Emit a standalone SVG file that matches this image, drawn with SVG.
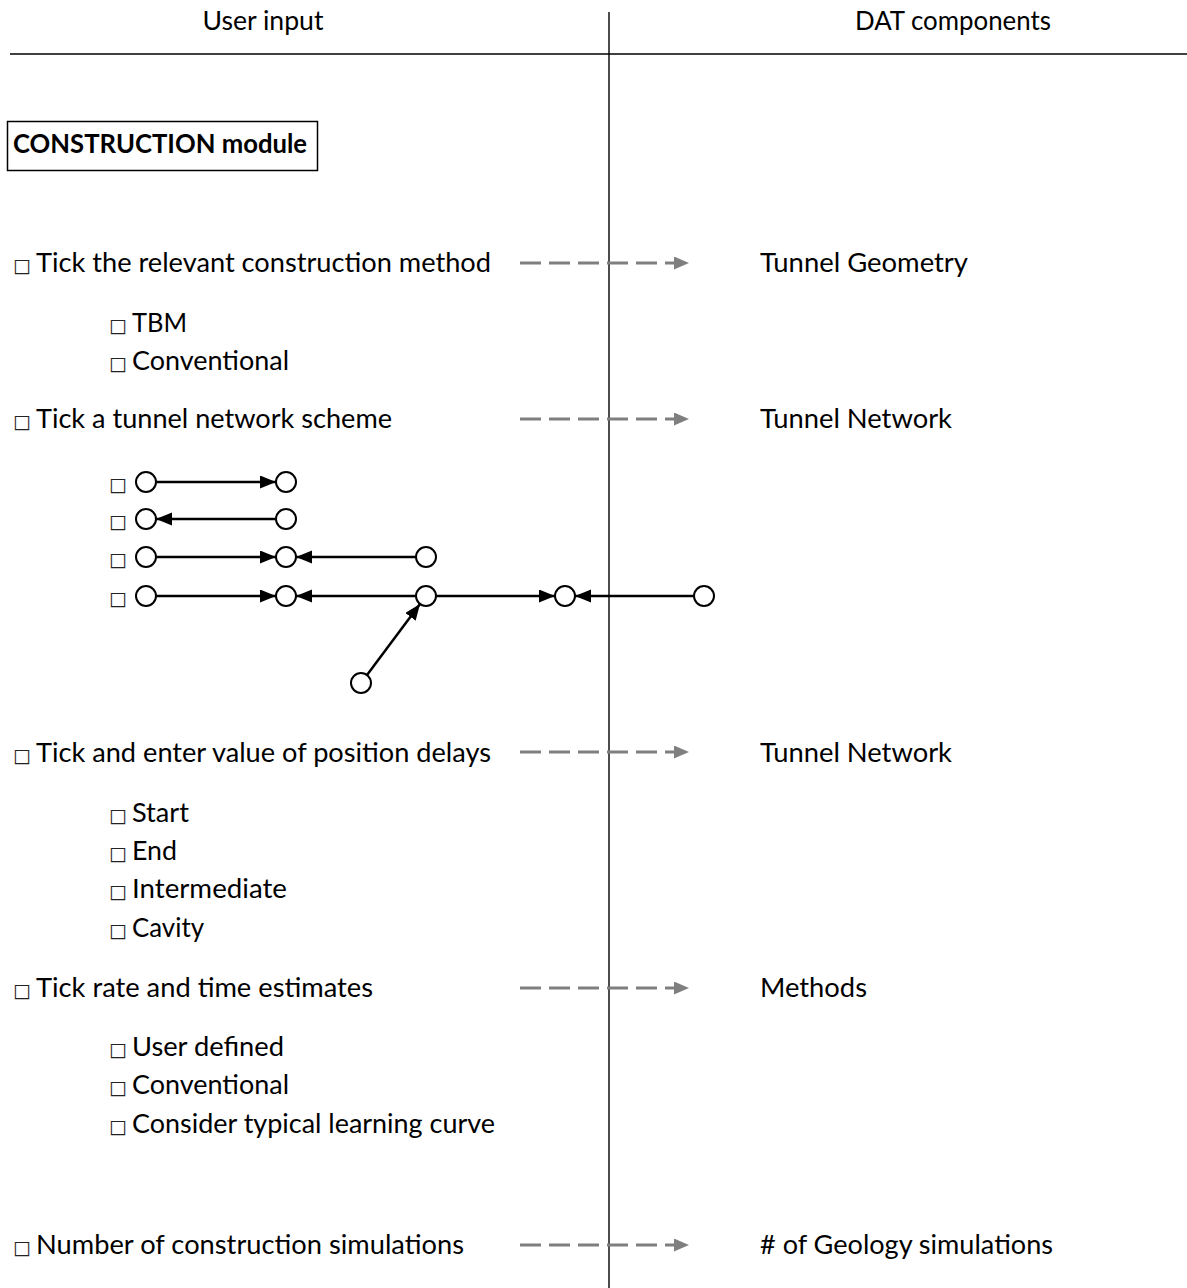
<svg xmlns="http://www.w3.org/2000/svg" width="1187" height="1288" viewBox="0 0 1187 1288">
  <style>
    text { font-family: Lato, "Open Sans", "Liberation Sans", sans-serif; font-size: 26.5px; fill: #000; }
    .bold { font-weight: bold; }
    .bx { font-family: "DejaVu Sans", sans-serif; font-size: 19px; fill: #222; }
    .rule { stroke: #000; stroke-width: 1.4; fill: none; }
    .flow { stroke: #7f7f7f; stroke-width: 3; stroke-dasharray: 21 8; fill: none; marker-end: url(#grayHead); }
    .edge { stroke: #000; stroke-width: 2.5; fill: none; marker-end: url(#blackHead); }
    .site { fill: #fff; stroke: #000; stroke-width: 2; }
  </style>
  <defs>
    <marker id="grayHead" markerUnits="userSpaceOnUse" markerWidth="16" markerHeight="14" refX="0" refY="6.5" orient="auto">
      <path d="M0,0 L15,6.5 L0,13 z" fill="#7f7f7f"/>
    </marker>
    <marker id="blackHead" markerUnits="userSpaceOnUse" markerWidth="17" markerHeight="14" refX="16" refY="6.5" orient="auto">
      <path d="M0,0 L16,6.5 L0,13 z" fill="#000"/>
    </marker>
  </defs>

  <rect width="1187" height="1288" fill="#fff"/>

  <!-- column headers and dividers -->
  <g id="headers">
    <text x="263" y="30" text-anchor="middle" textLength="121" lengthAdjust="spacingAndGlyphs">User input</text>
    <text x="953" y="30" text-anchor="middle" textLength="196" lengthAdjust="spacingAndGlyphs">DAT components</text>
    <line class="rule" x1="10" y1="54" x2="1187" y2="54"/>
    <line class="rule" x1="609" y1="12" x2="609" y2="1288"/>
  </g>

  <g id="module-title">
    <rect x="7.5" y="121.5" width="310" height="49" fill="none" stroke="#000" stroke-width="1.5"/>
    <text class="bold" x="13" y="153" textLength="294" lengthAdjust="spacingAndGlyphs">CONSTRUCTION module</text>
  </g>

  <!-- user input items (left column) -->
  <g id="input-method">
    <text y="272"><tspan class="bx" x="13">□</tspan><tspan x="36" textLength="455" lengthAdjust="spacingAndGlyphs">Tick the relevant construction method</tspan></text>
    <text y="332"><tspan class="bx" x="109">□</tspan><tspan x="132" textLength="55" lengthAdjust="spacingAndGlyphs">TBM</tspan></text>
    <text y="370"><tspan class="bx" x="109">□</tspan><tspan x="132" textLength="157" lengthAdjust="spacingAndGlyphs">Conventional</tspan></text>
  </g>

  <g id="input-network">
    <text y="428"><tspan class="bx" x="13">□</tspan><tspan x="36" textLength="356" lengthAdjust="spacingAndGlyphs">Tick a tunnel network scheme</tspan></text>
    <text class="bx" x="109" y="491">□</text>
    <text class="bx" x="109" y="528">□</text>
    <text class="bx" x="109" y="566">□</text>
    <text class="bx" x="109" y="605">□</text>
  </g>

  <g id="input-delays">
    <text y="762"><tspan class="bx" x="13">□</tspan><tspan x="36" textLength="455" lengthAdjust="spacingAndGlyphs">Tick and enter value of position delays</tspan></text>
    <text y="822"><tspan class="bx" x="109">□</tspan><tspan x="132" textLength="57" lengthAdjust="spacingAndGlyphs">Start</tspan></text>
    <text y="860"><tspan class="bx" x="109">□</tspan><tspan x="132" textLength="45" lengthAdjust="spacingAndGlyphs">End</tspan></text>
    <text y="898"><tspan class="bx" x="109">□</tspan><tspan x="132" textLength="155" lengthAdjust="spacingAndGlyphs">Intermediate</tspan></text>
    <text y="937"><tspan class="bx" x="109">□</tspan><tspan x="132" textLength="72" lengthAdjust="spacingAndGlyphs">Cavity</tspan></text>
  </g>

  <g id="input-rates">
    <text y="997"><tspan class="bx" x="13">□</tspan><tspan x="36" textLength="337" lengthAdjust="spacingAndGlyphs">Tick rate and time estimates</tspan></text>
    <text y="1056"><tspan class="bx" x="109">□</tspan><tspan x="132" textLength="152" lengthAdjust="spacingAndGlyphs">User defined</tspan></text>
    <text y="1094"><tspan class="bx" x="109">□</tspan><tspan x="132" textLength="157" lengthAdjust="spacingAndGlyphs">Conventional</tspan></text>
    <text y="1133"><tspan class="bx" x="109">□</tspan><tspan x="132" textLength="363" lengthAdjust="spacingAndGlyphs">Consider typical learning curve</tspan></text>
  </g>

  <g id="input-simulations">
    <text y="1254"><tspan class="bx" x="13">□</tspan><tspan x="36" textLength="428" lengthAdjust="spacingAndGlyphs">Number of construction simulations</tspan></text>
  </g>

  <!-- DAT components (right column) -->
  <g id="dat-geometry"><text x="760" y="272" textLength="208" lengthAdjust="spacingAndGlyphs">Tunnel Geometry</text></g>
  <g id="dat-network-1"><text x="760" y="428" textLength="192" lengthAdjust="spacingAndGlyphs">Tunnel Network</text></g>
  <g id="dat-network-2"><text x="760" y="762" textLength="192" lengthAdjust="spacingAndGlyphs">Tunnel Network</text></g>
  <g id="dat-methods"><text x="760" y="997" textLength="107" lengthAdjust="spacingAndGlyphs">Methods</text></g>
  <g id="dat-geology"><text x="760" y="1254" textLength="293" lengthAdjust="spacingAndGlyphs"># of Geology simulations</text></g>

  <!-- network scheme sketches: sites -->
  <g id="scheme-sites">
    <circle class="site" cx="146" cy="482" r="10"/>
    <circle class="site" cx="286" cy="482" r="10"/>
    <circle class="site" cx="146" cy="519" r="10"/>
    <circle class="site" cx="286" cy="519" r="10"/>
    <circle class="site" cx="146" cy="557" r="10"/>
    <circle class="site" cx="286" cy="557" r="10"/>
    <circle class="site" cx="426" cy="557" r="10"/>
    <circle class="site" cx="146" cy="596" r="10"/>
    <circle class="site" cx="286" cy="596" r="10"/>
    <circle class="site" cx="426" cy="596" r="10"/>
    <circle class="site" cx="565" cy="596" r="10"/>
    <circle class="site" cx="704" cy="596" r="10"/>
    <circle class="site" cx="361" cy="683" r="10"/>
  </g>

  <g id="connectors">
    <!-- mapping arrows from inputs to DAT components -->
    <line class="flow" x1="520" y1="263" x2="674" y2="263"/>
    <line class="flow" x1="520" y1="419" x2="674" y2="419"/>
    <line class="flow" x1="520" y1="752" x2="674" y2="752"/>
    <line class="flow" x1="520" y1="988" x2="674" y2="988"/>
    <line class="flow" x1="520" y1="1245" x2="674" y2="1245"/>
    <!-- excavation directions in the schemes -->
    <line class="edge" x1="157" y1="482" x2="276" y2="482"/>
    <line class="edge" x1="275" y1="519" x2="156" y2="519"/>
    <line class="edge" x1="157" y1="557" x2="276" y2="557"/>
    <line class="edge" x1="415" y1="557" x2="296" y2="557"/>
    <line class="edge" x1="157" y1="596" x2="276" y2="596"/>
    <line class="edge" x1="415" y1="596" x2="296" y2="596"/>
    <line class="edge" x1="437" y1="596" x2="555" y2="596"/>
    <line class="edge" x1="693" y1="596" x2="575" y2="596"/>
    <line class="edge" x1="367" y1="675" x2="420" y2="604"/>
  </g>
</svg>
